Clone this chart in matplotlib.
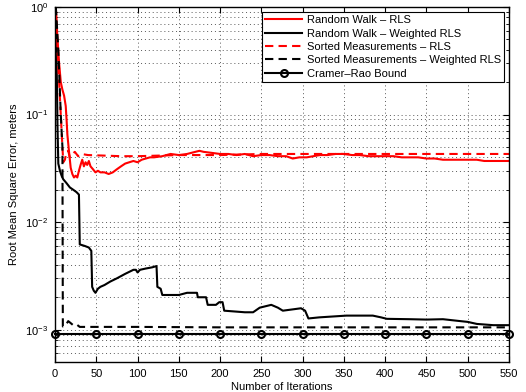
import matplotlib
matplotlib.use("Agg")
import matplotlib.pyplot as plt
from matplotlib.ticker import LogLocator, MultipleLocator

plt.rcParams["font.family"] = ["Liberation Sans", "DejaVu Sans"]
plt.rcParams["mathtext.fontset"] = "custom"
plt.rcParams["mathtext.rm"] = "Liberation Sans"
plt.rcParams["mathtext.it"] = "Liberation Sans:italic"
plt.rcParams["font.size"] = 8

# Random Walk - RLS
rw_rls_x = [1, 3, 5, 7, 9, 11, 13, 14, 15, 17, 19, 21, 23, 25, 27, 29, 31, 33,
            35, 37, 39, 41, 43, 46, 49, 52, 55, 60, 65, 70, 75, 80, 85, 90, 95,
            100, 105, 110, 115, 120, 130, 140, 150, 160, 170, 175, 180, 190,
            200, 210, 220, 230, 240, 250, 260, 270, 280, 288, 296, 305, 313,
            321, 330, 340, 349, 360, 369, 380, 389, 400, 410, 420, 430, 440,
            450, 460, 470, 480, 490, 500, 511, 520, 531, 540, 550]
rw_rls_y = [1.0, 0.5, 0.3, 0.2, 0.17, 0.15, 0.12, 0.09, 0.065, 0.045, 0.032,
            0.028, 0.026, 0.027, 0.026, 0.030, 0.034, 0.038, 0.033, 0.036,
            0.034, 0.037, 0.033, 0.031, 0.029, 0.030, 0.029, 0.029, 0.028,
            0.029, 0.031, 0.033, 0.035, 0.036, 0.037, 0.036, 0.038, 0.039,
            0.040, 0.040, 0.041, 0.043, 0.042, 0.043, 0.045, 0.046, 0.045,
            0.044, 0.043, 0.043, 0.042, 0.043, 0.041, 0.042, 0.042, 0.041,
            0.041, 0.039, 0.040, 0.040, 0.041, 0.042, 0.042, 0.043, 0.043,
            0.042, 0.042, 0.041, 0.041, 0.041, 0.041, 0.040, 0.040, 0.040,
            0.039, 0.039, 0.038, 0.038, 0.038, 0.038, 0.038, 0.037, 0.037,
            0.037, 0.037]

# Random Walk - Weighted RLS
rw_wrls_x = [1, 2, 3, 4, 6, 8, 10, 14, 18, 22, 26, 29, 30, 36, 41, 44, 45, 47,
             49, 52, 55, 60, 67, 75, 85, 95, 98, 100, 103, 110, 118, 123, 124,
             128, 130, 140, 150, 160, 172, 173, 183, 185, 195, 199, 203, 205,
             215, 230, 240, 248, 262, 270, 276, 290, 298, 303, 307, 320, 340,
             353, 385, 395, 402, 430, 450, 470, 491, 500, 511, 531, 550]
rw_wrls_y = [1.0, 0.3, 0.08, 0.035, 0.030, 0.027, 0.025, 0.023, 0.021, 0.020,
             0.019, 0.018, 0.0062, 0.0060, 0.0058, 0.0054, 0.0025, 0.0023,
             0.0022, 0.0024, 0.0025, 0.0026, 0.0028, 0.0030, 0.0033, 0.0036,
             0.0036, 0.0034, 0.0036, 0.0037, 0.0038, 0.0039, 0.0025, 0.0024,
             0.0021, 0.0021, 0.0021, 0.0022, 0.0022, 0.0020, 0.0020, 0.0017,
             0.0017, 0.0018, 0.0018, 0.0015, 0.00148, 0.00145, 0.00145, 0.0016,
             0.0017, 0.0016, 0.0015, 0.00155, 0.00158, 0.0015, 0.00127, 0.0013,
             0.00133, 0.00135, 0.00135, 0.0013, 0.00126, 0.00125, 0.00124,
             0.00125, 0.0012, 0.00118, 0.00113, 0.0011, 0.0011]

# Sorted Measurements - RLS
sm_rls_x = [1, 3, 5, 7, 8, 9, 10, 12, 14, 16, 18, 20, 24, 28, 32, 40, 60, 80,
            100, 150, 200, 250, 300, 350, 400, 450, 500, 550]
sm_rls_y = [0.9, 0.4, 0.2, 0.1, 0.07, 0.05, 0.036, 0.038, 0.045, 0.046, 0.040,
            0.042, 0.045, 0.041, 0.043, 0.042, 0.0415, 0.041, 0.041, 0.042,
            0.042, 0.043, 0.043, 0.043, 0.043, 0.043, 0.043, 0.043]

# Sorted Measurements - Weighted RLS
sm_wrls_x = [1, 4, 7, 9, 9.5, 13, 16, 19, 22, 26, 30, 100, 200, 300, 400, 550]
sm_wrls_y = [1.0, 0.4, 0.1, 0.05, 0.00107, 0.0011, 0.0012, 0.00115, 0.0011,
             0.00112, 0.00106, 0.00106, 0.00105, 0.00105, 0.00105, 0.00105]

# Cramer-Rao Bound
crb_x = [0, 50, 100, 150, 200, 250, 300, 350, 400, 450, 500, 550]
crb_y = [9.1e-4] * len(crb_x)

fig = plt.figure(figsize=(5.26, 3.92), dpi=100)
ax = fig.add_axes([55 / 526, 30 / 392, 454 / 526, 355 / 392])

ax.semilogy(rw_rls_x, rw_rls_y, "r-", lw=1.5, label="Random Walk – RLS")
ax.semilogy(rw_wrls_x, rw_wrls_y, "k-", lw=1.5, label="Random Walk – Weighted RLS")
ax.semilogy(sm_rls_x, sm_rls_y, "r--", lw=1.5, dashes=(4, 2.5),
            label="Sorted Measurements – RLS")
ax.semilogy(sm_wrls_x, sm_wrls_y, "k--", lw=1.5, dashes=(4, 2.5),
            label="Sorted Measurements – Weighted RLS")
ax.semilogy(crb_x, crb_y, "k-o", lw=1.5, ms=5, mfc="none", mew=1.5,
            label="Cramer–Rao Bound", clip_on=False, zorder=5)

ax.set_xlim(0, 550)
ax.set_ylim(5e-4, 1)
ax.xaxis.set_major_locator(MultipleLocator(50))
ax.yaxis.set_major_locator(LogLocator(base=10, numticks=10))
ax.yaxis.set_minor_locator(LogLocator(base=10, subs=range(2, 10), numticks=10))

# MATLAB-style dotted grid
ax.grid(True, which="major", ls=(0, (1, 3)), lw=0.7, color="0.35")
ax.grid(True, which="minor", axis="y", ls=(0, (1, 3)), lw=0.7, color="0.35")
ax.tick_params(which="both", direction="in", top=True, right=True, pad=5)
ax.tick_params(which="major", length=4)
ax.tick_params(which="minor", length=2)
for s in ax.spines.values():
    s.set_linewidth(1.0)

ax.set_xlabel("Number of Iterations", labelpad=2)
ax.set_ylabel("Root Mean Square Error, meters", labelpad=4)

leg = ax.legend(loc="upper right", fontsize=8, handlelength=3.3,
                borderaxespad=0.45, fancybox=False, framealpha=1,
                labelspacing=0.3, borderpad=0.3, handletextpad=0.4)
leg.get_frame().set_edgecolor("black")
leg.get_frame().set_linewidth(0.8)

fig.savefig("out.png", dpi=100)
